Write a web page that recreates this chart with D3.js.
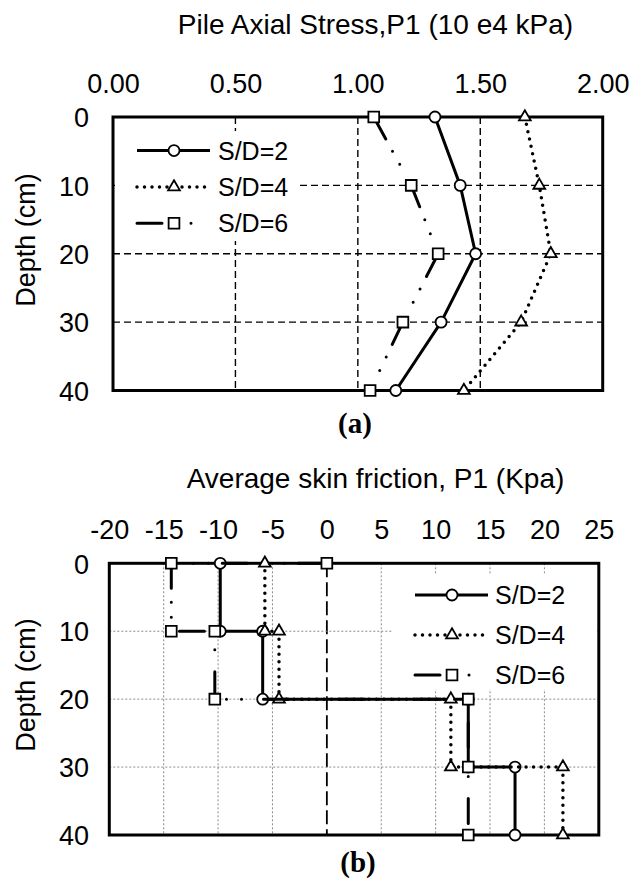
<!DOCTYPE html>
<html>
<head>
<meta charset="utf-8">
<script src="https://cdn.jsdelivr.net/npm/d3@7"></script>
<style>
body { margin: 0; background: #fff; }
svg { display: block; font-family: "Liberation Sans", Arial, sans-serif; }
</style>
</head>
<body>
<svg width="630" height="881"></svg>
<script>
// (a) pile axial stress vs depth
var depths = [0, 10, 20, 30, 40];
var stressTicks = [0, 0.5, 1.0, 1.5, 2.0];
var stressSD2 = [1.315, 1.418, 1.481, 1.340, 1.155];
var stressSD4 = [1.682, 1.741, 1.788, 1.667, 1.433];
var stressSD6 = [1.065, 1.218, 1.328, 1.184, 1.050];

// (b) average skin friction, step profiles
var frictionTicks = [-20, -15, -10, -5, 0, 5, 10, 15, 20, 25];
var frictionDepth = [0, 10, 10, 20, 20, 30, 30, 40];
var frictionSD2 = [-9.8, -9.8, -5.9, -5.9, 13.0, 13.0, 17.3, 17.3];
var frictionSD4 = [-5.7, -5.7, -4.4, -4.4, 11.4, 11.4, 21.7, 21.7];
var frictionDepthSD6 = [0, 0, 10, 10, 20, 20, 30, 40];
var frictionSD6 = [0, -14.3, -14.3, -10.3, -10.3, 13.0, 13.0, 13.0];

var seriesNames = ["S/D=2", "S/D=4", "S/D=6"];

var svg = d3.select("svg");

var dashes = [null, "0,7.5", "25,14,0,15,0,22"];
var symbols = [d3.symbolCircle, d3.symbolTriangle, d3.symbolSquare];
var symbolSizes = [95, 60, 116];
//line style and marker per series

function drawLine(g, pts, i, offset) {
    g.append("path")
        .attr("d", d3.line()(pts))
        .attr("fill", "none")
        .attr("stroke", "#000")
        .attr("stroke-width", i == 1 ? 3.5 : 3)
        .attr("stroke-linecap", i == 0 ? "butt" : "round")
        .attr("stroke-linejoin", "round")
        .attr("stroke-dasharray", dashes[i])
        .attr("stroke-dashoffset", offset || 0);
}

function drawMarkers(g, pts, i) {
    g.selectAll(null)
        .data(pts)
        .enter().append("path")
        .attr("transform", function (d) {
            return "translate(" + d[0] + "," + d[1] + ")";
        })
        .attr("d", d3.symbol().type(symbols[i]).size(symbolSizes[i]))
        .attr("fill", "#fff")
        .attr("stroke", "#000")
        .attr("stroke-width", 1.8);
}

function panel(cfg) {
    var x = d3.scaleLinear().domain(cfg.xDomain).range([cfg.left, cfg.right]),
        y = d3.scaleLinear().domain([0, 40]).range([cfg.top, cfg.bottom]);
    var g = svg.append("g");

    //grid lines
    g.selectAll(".vgrid")
        .data(cfg.ticks.slice(1, -1))
        .enter().append("line")
        .attr("x1", function (d) { return x(d); })
        .attr("x2", function (d) { return x(d); })
        .attr("y1", cfg.top)
        .attr("y2", cfg.bottom)
        .attr("stroke", function (d) { return d == 0 ? "#000" : cfg.gridColor; })
        .attr("stroke-width", function (d) { return d == 0 ? 1.8 : cfg.gridWidth; })
        .attr("stroke-dasharray", function (d) { return d == 0 ? "14,5" : cfg.gridDash; });

    g.selectAll(".hgrid")
        .data(depths.slice(1, -1))
        .enter().append("line")
        .attr("x1", cfg.left)
        .attr("x2", cfg.right)
        .attr("y1", function (d) { return y(d); })
        .attr("y2", function (d) { return y(d); })
        .attr("stroke", cfg.gridColor)
        .attr("stroke-width", cfg.gridWidth)
        .attr("stroke-dasharray", cfg.gridDash);

    //legend background hides the grid
    g.append("rect")
        .attr("x", cfg.legend.x0)
        .attr("y", cfg.legend.y0)
        .attr("width", cfg.legend.x1 - cfg.legend.x0)
        .attr("height", cfg.legend.y1 - cfg.legend.y0)
        .attr("fill", "#fff");

    g.append("rect")
        .attr("x", cfg.left)
        .attr("y", cfg.top)
        .attr("width", cfg.right - cfg.left)
        .attr("height", cfg.bottom - cfg.top)
        .attr("fill", "none")
        .attr("stroke", "#000")
        .attr("stroke-width", 3);

    //axes
    var ax = g.append("g")
        .attr("transform", "translate(0," + cfg.top + ")")
        .call(d3.axisTop(x).tickValues(cfg.ticks).tickFormat(cfg.format).tickSize(0).tickPadding(24));
    var ay = g.append("g")
        .attr("transform", "translate(" + cfg.left + ",0)")
        .call(d3.axisLeft(y).tickValues(depths).tickSize(0).tickPadding(cfg.left - 89));
    [ax, ay].forEach(function (a) {
        a.select(".domain").remove();
        a.selectAll("text").attr("font-size", 27).attr("fill", "#000")
            .attr("font-family", "'Liberation Sans', Arial, sans-serif");
    });
    ay.selectAll("text").attr("dy", "0.36em");

    g.append("text")
        .attr("x", 375.5)
        .attr("y", cfg.titleY)
        .attr("text-anchor", "middle")
        .attr("font-size", 28)
        .text(cfg.title);

    g.append("text")
        .attr("transform", "translate(25," + cfg.depthY + ") rotate(-90)")
        .attr("dy", "0.36em")
        .attr("text-anchor", "middle")
        .attr("font-size", 27)
        .text("Depth (cm)");

    g.append("text")
        .attr("x", cfg.tagX)
        .attr("y", cfg.tagY)
        .attr("text-anchor", "middle")
        .attr("font-family", "'Liberation Serif', 'Times New Roman', serif")
        .attr("font-weight", "bold")
        .attr("font-size", 29)
        .text(cfg.tag);

    //series: lines and markers
    cfg.series.forEach(function (s, i) {
        var pts = s.xs.map(function (v, j) { return [x(v), y(s.ys[j])]; });
        drawLine(g, pts, i, s.offset);
        drawMarkers(g, pts, i);
    });

    //legend entries
    var L = cfg.legend;
    seriesNames.forEach(function (name, i) {
        var ly = L.rows[i];
        drawLine(g, [[L.lineX0, ly], [L.lineX1, ly]], i);
        drawMarkers(g, [[L.markX, ly]], i);
        g.append("text")
            .attr("x", L.textX)
            .attr("y", ly)
            .attr("dy", "0.36em")
            .attr("font-size", 25)
            .text(name);
    });
}

panel({
    xDomain: [0, 2],
    ticks: stressTicks,
    format: d3.format(".2f"),
    left: 113, right: 602.7, top: 117, bottom: 390.5,
    gridColor: "#000", gridWidth: 1.4, gridDash: "7,4",
    title: "Pile Axial Stress,P1 (10 e4 kPa)", titleY: 34,
    depthY: 240,
    tag: "(a)", tagX: 355, tagY: 433,
    series: [
        { xs: stressSD2, ys: depths },
        { xs: stressSD4, ys: depths },
        { xs: stressSD6, ys: depths }
    ],
    legend: { x0: 115, x1: 300, y0: 131, y1: 241,
        lineX0: 137, lineX1: 210, markX: 174, textX: 218, rows: [150.6, 187, 223.3] }
});

panel({
    xDomain: [-20, 25],
    ticks: frictionTicks,
    format: function (d) { return String(d); },
    left: 109.3, right: 598.8, top: 563.3, bottom: 835,
    gridColor: "#8a8a8a", gridWidth: 1, gridDash: "2,2",
    title: "Average skin friction, P1 (Kpa)", titleY: 488,
    depthY: 685,
    tag: "(b)", tagX: 358, tagY: 872,
    series: [
        { xs: frictionSD2, ys: frictionDepth },
        { xs: frictionSD4, ys: frictionDepth },
        { xs: frictionSD6, ys: frictionDepthSD6, offset: -3.6 }
    ],
    legend: { x0: 392, x1: 597, y0: 574, y1: 689,
        lineX0: 415, lineX1: 488, markX: 452, textX: 495, rows: [595, 635, 675] }
});
</script>
</body>
</html>
